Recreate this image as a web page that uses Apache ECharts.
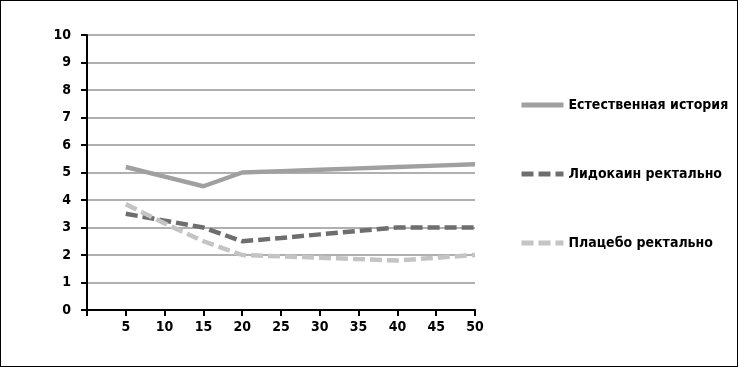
<!DOCTYPE html>
<html><head><meta charset="utf-8">
<script src="https://cdn.jsdelivr.net/npm/echarts@6/dist/echarts.min.js"></script>
<style>
html,body{margin:0;padding:0;background:#fff;}
#c{width:738px;height:367px;box-sizing:border-box;border:1px solid #000;}
</style></head><body>
<div id="c"></div>
<script>
var xValues = [5, 10, 15, 20, 25, 30, 35, 40, 45, 50];
var natural = [5.2, 4.85, 4.5, 5.0, 5.05, 5.1, 5.15, 5.2, 5.25, 5.3];
var lidocaine = [3.5, 3.25, 3.0, 2.5, 2.62, 2.75, 2.88, 3.0, 3.0, 3.0];
var placebo = [3.85, 3.15, 2.5, 2.0, 1.95, 1.9, 1.85, 1.8, 1.9, 2.0];
var seriesNames = ['Естественная история', 'Лидокаин ректально', 'Плацебо ректально'];
var yTicks = [0,1,2,3,4,5,6,7,8,9,10];

function pairs(vals){ return xValues.map(function(x,i){ return [x, vals[i]]; }); }
var font = '"DejaVu Sans Condensed", "Liberation Sans Narrow", "DejaVu Sans", sans-serif';
var chart = echarts.init(document.getElementById('c'), null, {renderer:'canvas'});
chart.setOption({
  animation:false,
  textStyle:{fontFamily:font},
  grid:{left:86, right:262, top:34, bottom:56},
  legend:{
    orient:'vertical', left:513, top:92, itemWidth:42, itemHeight:12, itemGap:55,
    itemStyle:{opacity:0},
    lineStyle:{width:5},
    textStyle:{fontFamily:font, fontWeight:'bold', fontSize:14, color:'#000'},
    data:seriesNames
  },
  xAxis:{
    type:'value', min:0, max:50, interval:5,
    axisLine:{lineStyle:{color:'#000', width:2}},
    axisTick:{show:true, length:6, lineStyle:{color:'#000', width:2}},
    axisLabel:{margin:10, fontFamily:font, fontWeight:'bold', fontSize:14, color:'#000',
      formatter:function(v){ return v===0 ? '' : String(v); }},
    splitLine:{show:false}
  },
  yAxis:{
    type:'value', min:yTicks[0], max:yTicks[yTicks.length-1], interval:1,
    axisLine:{show:true, lineStyle:{color:'#000', width:2}},
    axisTick:{show:true, length:6, lineStyle:{color:'#000', width:2}},
    axisLabel:{margin:16, fontFamily:font, fontWeight:'bold', fontSize:14, color:'#000'},
    splitLine:{show:true, lineStyle:{color:'#b0b0b0', width:2}}
  },
  series:[
    {name:seriesNames[0], type:'line', data:pairs(natural), symbol:'none',
      lineStyle:{color:'#a0a0a0', width:4.5}, itemStyle:{color:'#a0a0a0'}},
    {name:seriesNames[1], type:'line', data:pairs(lidocaine), symbol:'none',
      lineStyle:{color:'#6e6e6e', width:4.5, type:[12,5]}, itemStyle:{color:'#6e6e6e'}},
    {name:seriesNames[2], type:'line', data:pairs(placebo), symbol:'none',
      lineStyle:{color:'#c4c4c4', width:4.5, type:[12,5]}, itemStyle:{color:'#c4c4c4'}}
  ]
});
</script>
</body></html>
